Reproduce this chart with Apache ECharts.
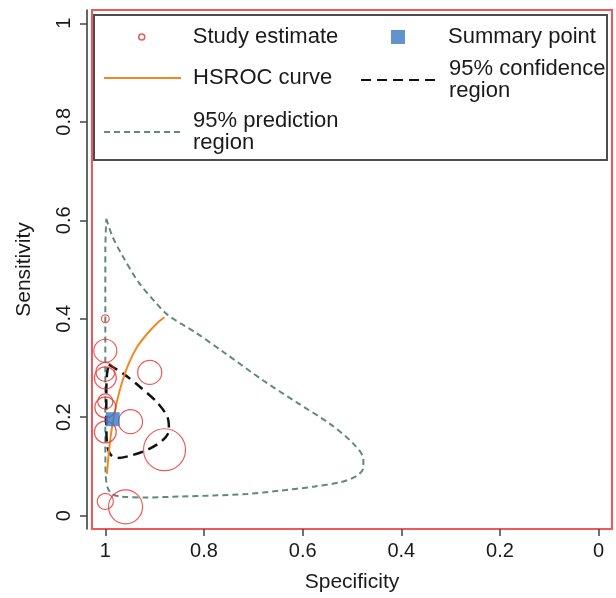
<!DOCTYPE html>
<html>
<head>
<meta charset="utf-8">
<style>
  html, body { margin: 0; padding: 0; background: #ffffff; }
  #chart { width: 616px; height: 598px; }
</style>
<script src="https://cdn.jsdelivr.net/npm/echarts@6/dist/echarts.min.js"></script>
</head>
<body>
<div id="chart"></div>
<script>
// ---------- data ----------
const tickValues = [0, 0.2, 0.4, 0.6, 0.8, 1];

// study estimates (specificity, sensitivity, relative weight)
const studySpec   = [1.0, 1.0, 1.0, 1.0, 0.910, 1.0, 1.0, 0.949, 1.0, 0.880, 1.0, 0.959];
const studySens   = [0.400, 0.335, 0.292, 0.280, 0.291, 0.232, 0.220, 0.191, 0.170, 0.134, 0.029, 0.018];
const studyWeight = [0.6, 5.3, 3.6, 4.8, 5.8, 2.3, 4.4, 5.8, 4.8, 17.6, 2.6, 11.6];

// summary point
const summarySpec = [0.985];
const summarySens = [0.196];

// HSROC curve
const hsrocSpec = [0.9966, 0.9932, 0.9885, 0.983, 0.976, 0.966, 0.953, 0.936, 0.9155, 0.895, 0.880];
const hsrocSens = [0.085, 0.125, 0.166, 0.200, 0.234, 0.271, 0.308, 0.342, 0.369, 0.391, 0.403];

// 95% confidence region
const confSpec = [0.9932, 0.963, 0.929, 0.895, 0.874, 0.871, 0.885, 0.9155, 0.949, 0.976, 0.990, 0.9966, 0.998, 0.998, 0.9966, 0.9932];
const confSens = [0.307, 0.288, 0.261, 0.230, 0.200, 0.173, 0.152, 0.1335, 0.122, 0.117, 0.125, 0.146, 0.193, 0.247, 0.288, 0.307];

// 95% prediction region
const predSpec = [0.998, 0.9864, 0.966, 0.9325, 0.899, 0.872, 0.818, 0.760, 0.679, 0.612, 0.544, 0.497, 0.477, 0.477, 0.490, 0.524, 0.578, 0.645, 0.713, 0.781, 0.848, 0.9155, 0.970, 0.9865, 0.9953, 0.9994, 1.0, 1.0, 1.0, 1.0, 0.998];
const predSens = [0.603, 0.569, 0.529, 0.474, 0.434, 0.4065, 0.3726, 0.332, 0.274, 0.230, 0.186, 0.146, 0.115, 0.098, 0.081, 0.068, 0.059, 0.051, 0.044, 0.041, 0.039, 0.037, 0.039, 0.044, 0.057, 0.085, 0.166, 0.301, 0.437, 0.539, 0.603];

const seriesNames = ['Study estimate', 'Summary point', 'HSROC curve', '95% confidence region', '95% prediction region'];
const legendLabels = {
  'Study estimate': 'Study estimate',
  'Summary point': 'Summary point',
  'HSROC curve': 'HSROC curve',
  '95% confidence region': '95% confidence\nregion',
  '95% prediction region': '95% prediction\nregion'
};

// ---------- build ----------
const zip = (a, b) => a.map((v, i) => [v, b[i]]);
const FONT = "'Liberation Sans', Arial, sans-serif";
const TXT = '#1a1a1a';

const chart = echarts.init(document.getElementById('chart'), null, { renderer: 'canvas' });

function mkLegend(name, left, top, w, h, padLeft, extra) {
  return Object.assign({
    data: [name], left: left, top: top, padding: 0,
    itemWidth: w, itemHeight: h, selectedMode: false,
    formatter: n => legendLabels[n],
    textStyle: { fontFamily: FONT, fontSize: 22, color: TXT, lineHeight: 22, padding: [0, 0, 0, padLeft] }
  }, extra || {});
}
const hideSym = { itemStyle: { color: 'transparent', borderWidth: 0, opacity: 0 } };

chart.setOption({
  backgroundColor: '#ffffff',
  animation: false,
  grid: {
    left: 92, top: 10, right: 4, bottom: 69,
    show: true, borderColor: '#ef5858', borderWidth: 2,
    outerBoundsMode: 'none'
  },
  graphic: [{
    type: 'rect', z: 1,
    shape: { x: 94, y: 15, width: 513, height: 145 },
    style: { fill: '#ffffff', stroke: '#4d4d4d', lineWidth: 2 }
  }],
  legend: [
    mkLegend(seriesNames[0], 138, 26, 6, 6, 43, {
      icon: 'circle',
      itemStyle: { color: 'transparent', borderColor: '#e83030', borderWidth: 1.5 }
    }),
    mkLegend(seriesNames[1], 391, 26, 14, 14, 38, { icon: 'rect' }),
    mkLegend(seriesNames[2], 103, 67, 77, 14, 7, hideSym),
    mkLegend(seriesNames[3], 360, 58, 76, 14, 7, hideSym),
    mkLegend(seriesNames[4], 103, 110, 77, 14, 7, hideSym)
  ],
  xAxis: {
    type: 'value', inverse: true, min: -0.027, max: 1.027,
    name: 'Specificity', nameLocation: 'middle', nameGap: 43,
    nameTextStyle: { fontFamily: FONT, fontSize: 21, color: TXT },
    axisLine: { show: false, onZero: false },
    axisTick: { show: true, length: 7, customValues: tickValues, lineStyle: { color: '#444', width: 1.5 } },
    axisLabel: { customValues: tickValues, fontFamily: FONT, fontSize: 20, color: TXT, margin: 12 },
    splitLine: { show: false }
  },
  yAxis: {
    type: 'value', min: -0.027, max: 1.027, offset: 5,
    name: 'Sensitivity', nameLocation: 'middle', nameGap: 52,
    nameTextStyle: { fontFamily: FONT, fontSize: 21, color: TXT },
    axisLine: { show: true, onZero: false, lineStyle: { color: '#333', width: 1.5 } },
    axisTick: { show: true, length: 7, customValues: tickValues, lineStyle: { color: '#444', width: 1.5 } },
    axisLabel: { customValues: tickValues, rotate: 90, fontFamily: FONT, fontSize: 20, color: TXT, margin: 13 },
    splitLine: { show: false }
  },
  series: [
    {
      name: seriesNames[4], type: 'line', data: zip(predSpec, predSens),
      symbol: 'none', smooth: 0.3, z: 2,
      lineStyle: { color: '#5f8a7c', width: 2, type: [6, 4] },
      itemStyle: { color: '#5f8a7c' }
    },
    {
      name: seriesNames[3], type: 'line', data: zip(confSpec, confSens),
      symbol: 'none', smooth: 0.3, z: 3,
      lineStyle: { color: '#111111', width: 2.5, type: [10, 6] },
      itemStyle: { color: '#111111' }
    },
    {
      name: seriesNames[2], type: 'line', data: zip(hsrocSpec, hsrocSens),
      symbol: 'none', smooth: 0.3, z: 3,
      lineStyle: { color: '#f28a24', width: 2 },
      itemStyle: { color: '#f28a24' }
    },
    {
      name: seriesNames[0], type: 'scatter',
      data: studySpec.map((s, i) => [s, studySens[i], studyWeight[i]]),
      symbol: 'circle',
      symbolSize: d => 10 * Math.sqrt(d[2]),
      z: 4,
      itemStyle: { color: 'transparent', borderColor: '#e83030', borderWidth: 1.2 }
    },
    {
      name: seriesNames[1], type: 'scatter', data: zip(summarySpec, summarySens),
      symbol: 'rect', symbolSize: 14, z: 5,
      itemStyle: { color: '#3b78c4' }
    }
  ]
});
</script>
</body>
</html>
